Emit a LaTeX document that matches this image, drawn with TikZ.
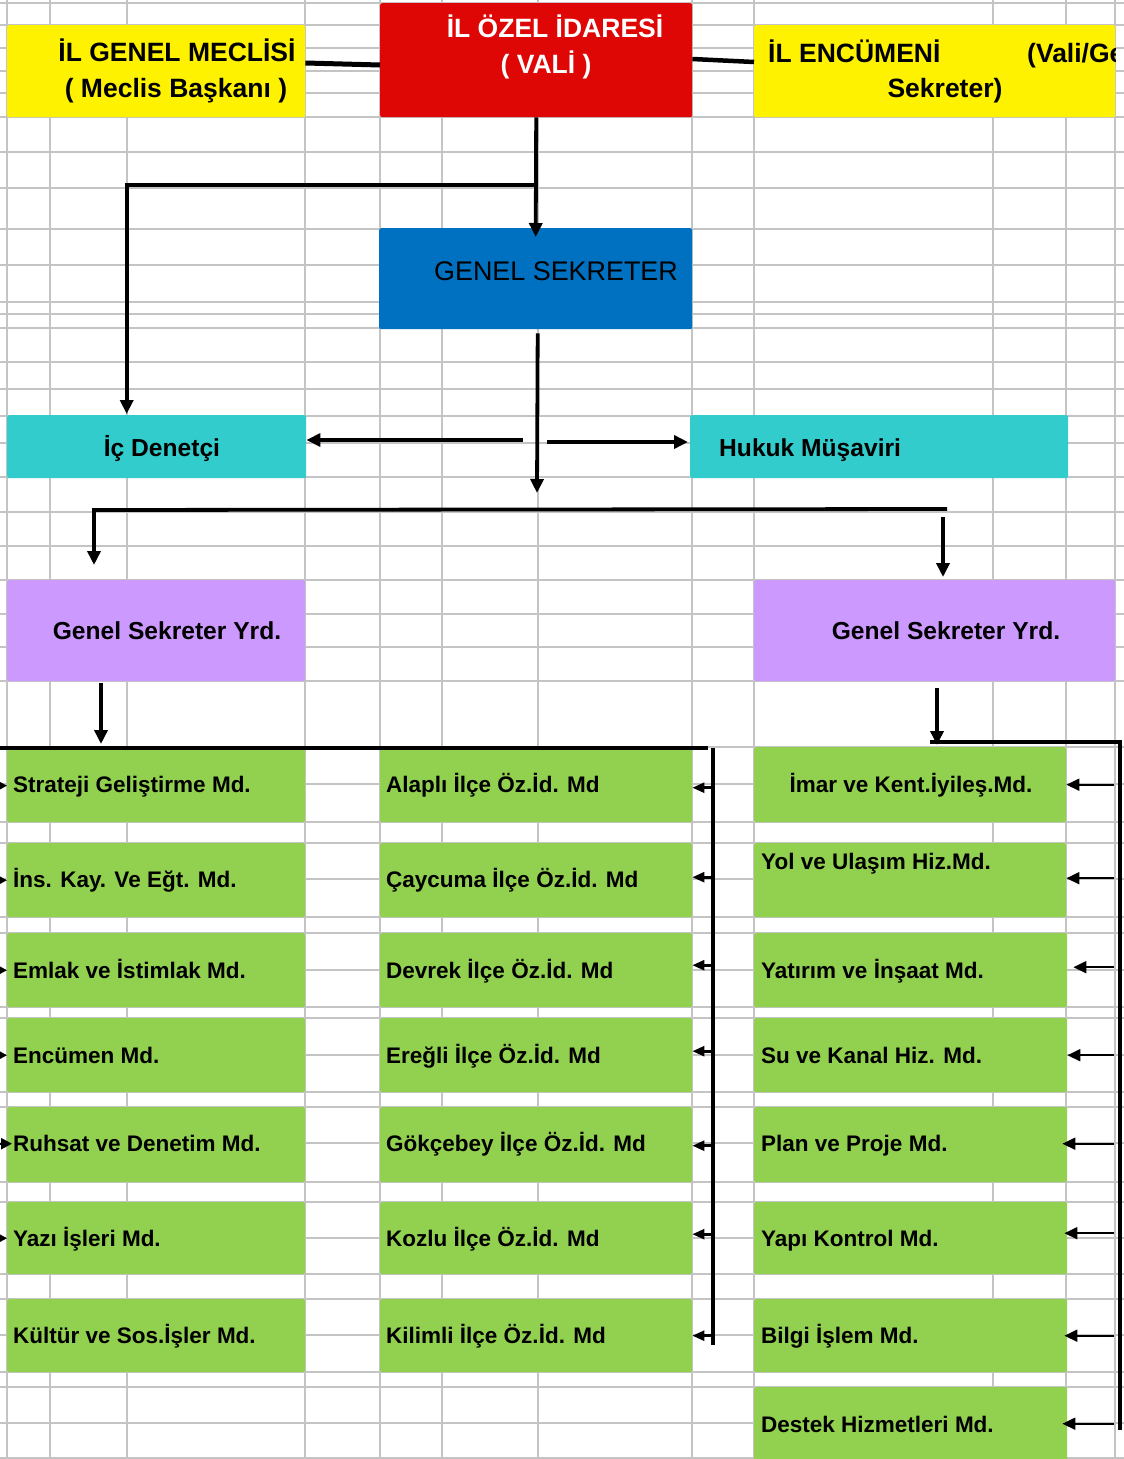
\documentclass[tikz,border=0pt]{standalone}
\usepackage{fontspec}
\setmainfont{Liberation Sans}
\usetikzlibrary{arrows.meta}
\definecolor{gridc}{HTML}{C4C4C4}
\definecolor{yel}{HTML}{FFF200}
\definecolor{redc}{HTML}{DF0606}
\definecolor{bluec}{HTML}{0070C0}
\definecolor{cyanc}{HTML}{33CCCC}
\definecolor{purc}{HTML}{CC99FF}
\definecolor{grn}{HTML}{92D050}
\tikzset{
  gridline/.style={draw=gridc, line width=2.4pt},
  box/.style={draw=none, rounded corners=2pt, inner sep=0pt, anchor=north west},
  gbox/.style={box, fill=grn},
  toptxt/.style={inner sep=0pt, font=\fontsize{26.5}{30}\selectfont\bfseries},
  midtxt/.style={inner sep=0pt, font=\fontsize{24.6}{28}\selectfont\bfseries},
  gtxt/.style={inner sep=0pt, anchor=base west, font=\fontsize{22.5}{26}\selectfont\bfseries},
  conn/.style={line width=3.8pt},
  arrowend/.style={-{Triangle[length=14pt,width=13pt]}},
  smallarr/.style={line width=2.6pt, -{Triangle[length=12pt,width=10pt]}},
  tinyarr/.style={line width=2pt, -{Triangle[length=8pt,width=8pt]}}
}
\begin{document}
\begin{tikzpicture}[x=1pt,y=-1pt]
\useasboundingbox (0,0) rectangle (1124,1459);
\clip (0,0) rectangle (1124,1459);
\fill[white] (0,0) rectangle (1124,1459);
% spreadsheet grid
\foreach \gx in {7,50,127,305,380,442,538,692,754,993,1066,1115}
  \draw[gridline] (\gx,0) -- (\gx,1459);
\foreach \gy in {3,25,48,71,93,117,152,188,229,265,302,314,328,362,389,416,443,477,512,546,580,614,647,681,747,784,822,843,879,917,933,970,1007,1018,1055,1092,1107,1143,1182,1202,1238,1274,1299,1335,1372,1387,1423,1458}
  \draw[gridline] (0,\gy) -- (1124,\gy);

% header boxes
\node[box, fill=yel, minimum width=298pt, minimum height=92pt] (meclis) at (7,25) {};
\node[box, fill=redc, minimum width=312pt, minimum height=114pt] (vali) at (380,3) {};
\node[box, fill=yel, minimum width=361pt, minimum height=92pt] (encumen) at (754,25) {};
\node[box, fill=bluec, minimum width=313pt, minimum height=101pt] (gensek) at (379,228) {};
\node[box, fill=cyanc, minimum width=299pt, minimum height=63pt] (icden) at (7,415) {};
\node[box, fill=cyanc, minimum width=378pt, minimum height=63pt] (hukuk) at (690,415) {};
\node[box, fill=purc, minimum width=298pt, minimum height=101pt] (yrdL) at (7,580) {};
\node[box, fill=purc, minimum width=361pt, minimum height=101pt] (yrdR) at (754,580) {};

% header texts
\node[toptxt, anchor=base] (meclis-t1) at (177,61) {İL GENEL MECLİSİ};
\node[toptxt, anchor=base] (meclis-t2) at (176,97) {( Meclis Başkanı )};
\node[toptxt, anchor=base, text=white] (vali-t1) at (555,37) {İL ÖZEL İDARESİ};
\node[toptxt, anchor=base, text=white] (vali-t2) at (546,73) {( VALİ )};
\node[toptxt, anchor=base west] (enc-t1) at (768,62) {İL ENCÜMENİ};
\begin{scope}
  \clip (754,25) rectangle (1115,117);
  \node[toptxt, anchor=base west] (enc-t2) at (1027,62) {(Vali/Genel};
\end{scope}
\node[toptxt, anchor=base] (enc-t3) at (945,97) {Sekreter)};
\node[inner sep=0pt, anchor=base, font=\fontsize{26.9}{30}\selectfont] (gensek-t) at (556,280) {GENEL SEKRETER};
\node[midtxt, anchor=base] (icden-t) at (162,456) {İç Denetçi};
\node[midtxt, anchor=base west] (hukuk-t) at (719,456) {Hukuk Müşaviri};
\node[midtxt, anchor=base] (yrdL-t) at (167,639) {Genel Sekreter Yrd.};
\node[midtxt, anchor=base] (yrdR-t) at (946,639) {Genel Sekreter Yrd.};

% green boxes: left column
\node[gbox, minimum width=298pt, minimum height=73pt] (l1) at (7,749) {};
\node[gbox, minimum width=298pt, minimum height=74pt] (l2) at (7,843) {};
\node[gbox, minimum width=298pt, minimum height=74pt] (l3) at (7,933) {};
\node[gbox, minimum width=298pt, minimum height=74pt] (l4) at (7,1018) {};
\node[gbox, minimum width=298pt, minimum height=75pt] (l5) at (7,1107) {};
\node[gbox, minimum width=298pt, minimum height=72pt] (l6) at (7,1202) {};
\node[gbox, minimum width=298pt, minimum height=73pt] (l7) at (7,1299) {};
% middle column
\node[gbox, minimum width=312pt, minimum height=73pt] (m1) at (380,749) {};
\node[gbox, minimum width=312pt, minimum height=74pt] (m2) at (380,843) {};
\node[gbox, minimum width=312pt, minimum height=74pt] (m3) at (380,933) {};
\node[gbox, minimum width=312pt, minimum height=74pt] (m4) at (380,1018) {};
\node[gbox, minimum width=312pt, minimum height=75pt] (m5) at (380,1107) {};
\node[gbox, minimum width=312pt, minimum height=72pt] (m6) at (380,1202) {};
\node[gbox, minimum width=312pt, minimum height=73pt] (m7) at (380,1299) {};
% right column
\node[gbox, minimum width=312pt, minimum height=75pt] (r1) at (754,747) {};
\node[gbox, minimum width=312pt, minimum height=74pt] (r2) at (754,843) {};
\node[gbox, minimum width=313pt, minimum height=74pt] (r3) at (754,933) {};
\node[gbox, minimum width=313pt, minimum height=74pt] (r4) at (754,1018) {};
\node[gbox, minimum width=313pt, minimum height=75pt] (r5) at (754,1107) {};
\node[gbox, minimum width=313pt, minimum height=72pt] (r6) at (754,1202) {};
\node[gbox, minimum width=313pt, minimum height=73pt] (r7) at (754,1299) {};
\node[gbox, minimum width=313pt, minimum height=75pt] (r8) at (754,1387) {};

% green texts
\node[gtxt] (l1-t) at (13,792) {Strateji Geliştirme Md.};
\node[gtxt] (l2-t) at (13,887) {İns. Kay. Ve Eğt. Md.};
\node[gtxt] (l3-t) at (13,978) {Emlak ve İstimlak Md.};
\node[gtxt] (l4-t) at (13,1063) {Encümen Md.};
\node[gtxt] (l5-t) at (13,1151) {Ruhsat ve Denetim Md.};
\node[gtxt] (l6-t) at (13,1246) {Yazı İşleri Md.};
\node[gtxt] (l7-t) at (13,1343) {Kültür ve Sos.İşler Md.};
\node[gtxt] (m1-t) at (386,792) {Alaplı İlçe Öz.İd. Md};
\node[gtxt] (m2-t) at (386,887) {Çaycuma İlçe Öz.İd. Md};
\node[gtxt] (m3-t) at (386,978) {Devrek İlçe Öz.İd. Md};
\node[gtxt] (m4-t) at (386,1063) {Ereğli İlçe Öz.İd. Md};
\node[gtxt] (m5-t) at (386,1151) {Gökçebey İlçe Öz.İd. Md};
\node[gtxt] (m6-t) at (386,1246) {Kozlu İlçe Öz.İd. Md};
\node[gtxt] (m7-t) at (386,1343) {Kilimli İlçe Öz.İd. Md};
\node[gtxt, anchor=base] (r1-t) at (911,792) {İmar ve Kent.İyileş.Md.};
\node[gtxt] (r2-t) at (761,869) {Yol ve Ulaşım Hiz.Md.};
\node[gtxt] (r3-t) at (761,978) {Yatırım ve İnşaat Md.};
\node[gtxt] (r4-t) at (761,1063) {Su ve Kanal Hiz. Md.};
\node[gtxt] (r5-t) at (761,1151) {Plan ve Proje Md.};
\node[gtxt] (r6-t) at (761,1246) {Yapı Kontrol Md.};
\node[gtxt] (r7-t) at (761,1343) {Bilgi İşlem Md.};
\node[gtxt] (r8-t) at (761,1432) {Destek Hizmetleri Md.};

% connector coordinates
\coordinate (br) at (536,185);
\coordinate (hub) at (537,493);
\coordinate (icS) at (523,440);
\coordinate (hkS) at (547,442);
\coordinate (busR) at (947,509);
\coordinate (busL) at (94,510);
\coordinate (rS) at (943,517);
\coordinate (lbA) at (101,744);
\coordinate (lbL) at (-5,748);
\coordinate (lbR) at (713,748);
\coordinate (lbB) at (713,1345);
\coordinate (rbA) at (937,745);
\coordinate (rhL) at (930,742);
\coordinate (rhR) at (1120,742);
\coordinate (rhB) at (1120,1430);

% top connectors
\draw[line width=5pt] (meclis.east |- 0,63) -- (vali.west |- 0,65);
\draw[line width=4.5pt] (vali.east |- 0,59) -- (encumen.west |- 0,62);
\draw[conn, arrowend] (vali.south) -- ([yshift=-9pt]gensek.north);
\draw[conn, arrowend] (br) -| ([xshift=-30pt,yshift=1pt]icden.north);
\draw[conn, arrowend] ([xshift=2pt,yshift=-4pt]gensek.south) -- (hub);
\draw[conn, arrowend] (icS) -- (icden.east |- icS);
\draw[conn, arrowend, shorten >=2pt] (hkS) -- (hukuk.west |- hkS);
\draw[conn, arrowend, shorten >=15pt] (busR) -- (busL) -- (yrdL.north -| busL);
\draw[conn, arrowend, shorten >=3pt] (rS) -- (yrdR.north -| rS);

% left bus
\draw[conn, arrowend] ([yshift=-2pt]yrdL.south -| lbA) -- (lbA);
\draw[conn] (lbL) -- (708,748);
\draw[conn] (lbR) -- (lbB);
\foreach \m/\dy in {m1/-2,m2/3,m3/5,m4/4,m5/-1,m6/4,m7/0}
  \draw[smallarr] ([yshift=\dy pt]lbR |- \m.east) -- ([yshift=\dy pt]\m.east);
\foreach \l in {l1,l2,l3,l4,l6}
  \draw[tinyarr] ([xshift=-20pt]\l.west) -- (\l.west);
\draw[line width=2.4pt, -{Triangle[length=11pt,width=11pt]}] ([xshift=-20pt,yshift=1pt]l5.west) -- ([xshift=5pt,yshift=1pt]l5.west);

% right bus
\draw[conn, arrowend] ([yshift=-7pt]yrdR.south -| rbA) -- (rbA);
\draw[conn] (rhL) -- (rhR) -- (rhB);
\foreach \r/\dy/\dx in {r1/0/0,r2/2/0,r3/3/6,r4/0/0,r5/1/-5,r6/5/-3,r7/0/-3,r8/1/-5}
  \draw[line width=2pt, -{Triangle[length=13pt,width=12pt]}, shorten <=6pt] ([yshift=\dy pt]rhR |- \r.east) -- ([xshift=\dx pt,yshift=\dy pt]\r.east);
\end{tikzpicture}
\end{document}
